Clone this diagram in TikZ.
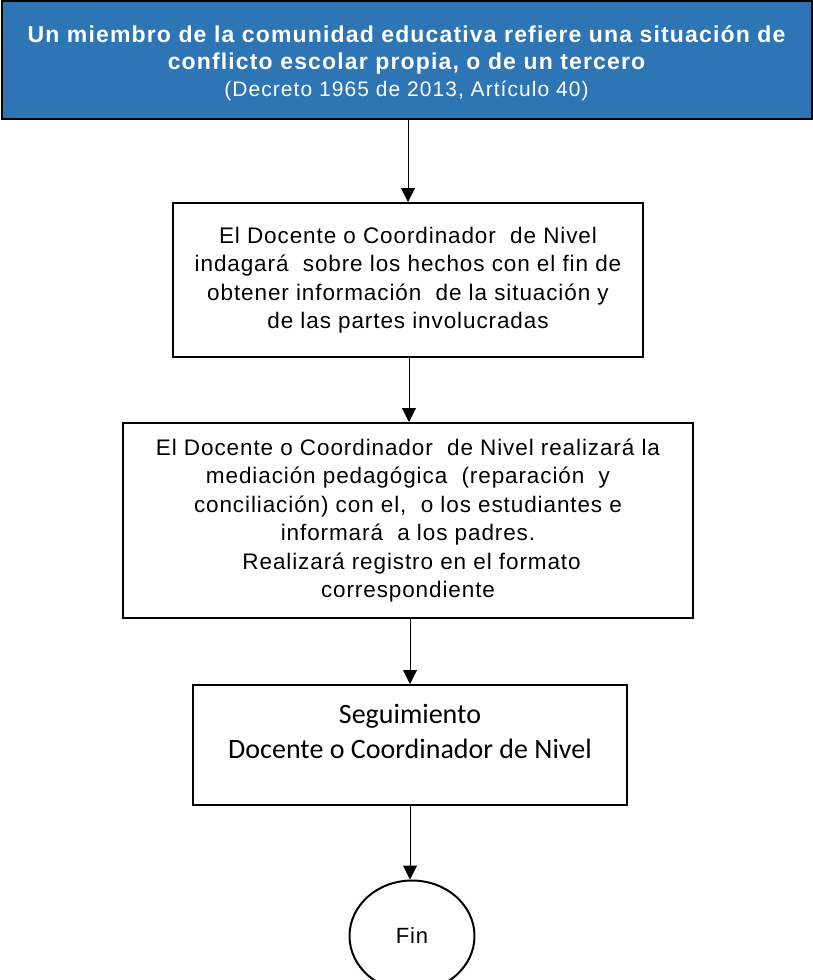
\documentclass[tikz,border=0pt]{standalone}
\usepackage{fontspec}
\setmainfont{Liberation Sans}[LetterSpace=4]
\newfontfamily\titlefont{Liberation Sans}[LetterSpace=5]
\newfontfamily\calfont{Carlito}
\usetikzlibrary{arrows.meta,shapes.geometric}
\definecolor{topblue}{RGB}{46,117,182}
\tikzset{
  box/.style={draw=black, line width=2pt, inner sep=0pt, fill=white},
  arr/.style={line width=1pt, -{Triangle[width=14pt,length=14pt]}},
  btext/.style={align=center, font=\fontsize{22.5}{28.5}\selectfont}
}
\begin{document}
\begin{tikzpicture}[x=1pt,y=-1pt]
\useasboundingbox (0,0) rectangle (813,980);
\node[box, fill=topblue, minimum width=810pt, minimum height=118pt] (top) at (406.5,60) {};
\node[text=white, align=center, inner sep=0pt,
  font=\titlefont\bfseries\fontsize{23}{27}\selectfont] (toptext) at (406.5,63)
  {Un miembro de la comunidad educativa refiere una situación de\\
   conflicto escolar propia, o de un tercero\\
   {\mdseries\fontsize{21}{27}\selectfont (Decreto 1965 de 2013, Artículo 40)}};
\node[box, minimum width=470pt, minimum height=154pt, btext] (b2) at (408,280)
  {El Docente o Coordinador \ de Nivel\\indagará \ sobre los hechos con el fin de\\obtener información \ de la situación y\\de las partes involucradas};
\node[box, minimum width=570pt, minimum height=195pt, btext] (b3) at (408,520.5)
  {El Docente o Coordinador \ de Nivel realizará la\\mediación pedagógica \ (reparación \ y\\conciliación) con el, \ o los estudiantes e\\informará \ a los padres.\\ \ Realizará registro en el formato\\correspondiente};
\node[box, minimum width=434pt, minimum height=120pt] (b4) at (410,745) {};
\node[align=center, font=\calfont\fontsize{28}{35}\selectfont, anchor=north, inner sep=0pt] (b4t) at (410,704)
  {Seguimiento\\Docente o Coordinador de Nivel};
\node[draw=black, line width=2pt, ellipse, minimum width=125pt, minimum height=111pt, inner sep=0pt, font=\fontsize{22}{26}\selectfont] (fin) at (412,936) {Fin};
\coordinate (a1) at (408,0);
\coordinate (a2) at (409,0);
\coordinate (a3) at (410,0);
\draw[arr] (a1 |- top.south) -- (a1 |- b2.north);
\draw[arr] (a2 |- b2.south) -- (a2 |- b3.north);
\draw[arr] (a3 |- b3.south) -- (a3 |- b4.north);
\draw[arr] (a3 |- b4.south) -- (a3 |- fin.north);
\end{tikzpicture}
\end{document}
